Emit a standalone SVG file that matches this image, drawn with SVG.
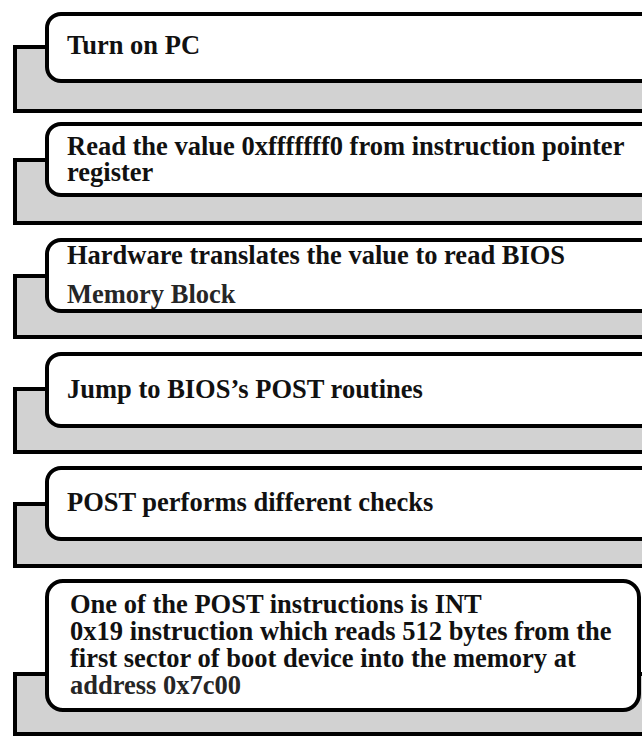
<svg xmlns="http://www.w3.org/2000/svg" width="642" height="736" viewBox="0 0 642 736">
<style>
.back{fill:#d2d2d2;stroke:#000;stroke-width:4}
.front{fill:#fff;stroke:#000;stroke-width:4}
text{font-family:"Liberation Serif","Times New Roman",serif;font-weight:bold;font-size:26.5px;fill:#111}
.soft{fill:#262626}
</style>
<rect width="642" height="736" fill="#fff"/>
<g id="step1">
<rect class="back" x="15" y="47" width="660" height="64"/>
<rect class="front" x="47" y="14" width="640" height="67" rx="14"/>
<text x="67" y="54">Turn on PC</text>
</g>
<g id="step2">
<rect class="back" x="15" y="160" width="660" height="63"/>
<rect class="front" x="47" y="124" width="640" height="71" rx="14"/>
<text x="67" y="155">Read the value 0xfffffff0 from instruction pointer</text>
<text x="67" y="181">register</text>
</g>
<g id="step3">
<rect class="back" x="15" y="276" width="660" height="61"/>
<rect class="front" x="47" y="240" width="640" height="71" rx="14"/>
<text x="67" y="264">Hardware translates the value to read BIOS</text>
<text x="67" y="303" class="soft">Memory Block</text>
</g>
<g id="step4">
<rect class="back" x="15" y="389" width="660" height="63"/>
<rect class="front" x="47" y="354" width="640" height="72" rx="14"/>
<text x="67" y="398">Jump to BIOS’s POST routines</text>
</g>
<g id="step5">
<rect class="back" x="15" y="504" width="660" height="62"/>
<rect class="front" x="47" y="468" width="640" height="71" rx="14"/>
<text x="67" y="511">POST performs different checks</text>
</g>
<g id="step6">
<rect class="back" x="15" y="674" width="660" height="60"/>
<rect class="front" x="47" y="581" width="592" height="129" rx="16"/>
<text x="70" y="613">One of the POST instructions is INT</text>
<text x="70" y="640">0x19 instruction which reads 512 bytes from the</text>
<text x="70" y="667">first sector of boot device into the memory at</text>
<text x="70" y="694" class="soft">address 0x7c00</text>
</g>
<g id="connectors"></g>
</svg>
